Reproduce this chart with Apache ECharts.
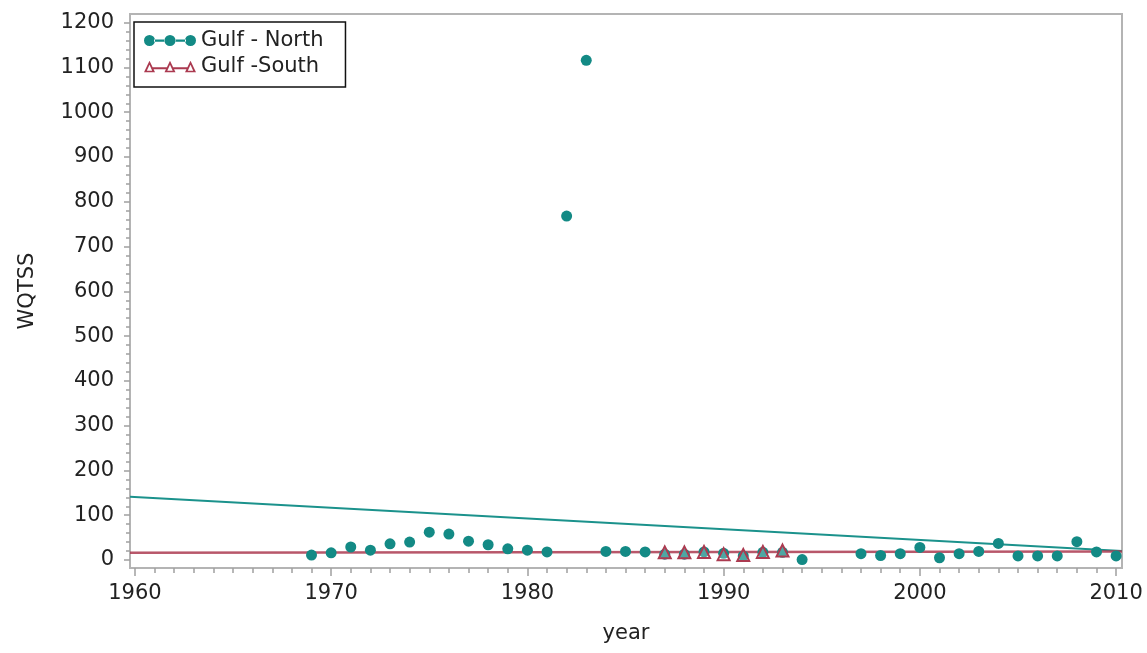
<!DOCTYPE html>
<html>
<head>
<meta charset="utf-8">
<script src="https://cdn.jsdelivr.net/npm/echarts@6/dist/echarts.min.js"></script>
<style>
    html, body { margin: 0; padding: 0; background: #fff; }
    #main { width: 1147px; height: 653px; }
</style>
</head>
<body>
<div id="main"></div>
<script>
// Gulf - North observations (year, WQTSS)
var northYears = [1969, 1970, 1971, 1972, 1973, 1974, 1975, 1976, 1977, 1978, 1979, 1980, 1981, 1982, 1983,
    1984, 1985, 1986, 1987, 1988, 1989, 1990, 1991, 1992, 1993, 1994,
    1997, 1998, 1999, 2000, 2001, 2002, 2003, 2004, 2005, 2006, 2007, 2008, 2009, 2010];
var northValues = [11, 16, 29, 22, 36, 40, 62, 58, 42, 34, 25, 22, 18, 768, 1116,
    19, 19, 18, 13, 13, 18, 15, 9, 17, 17, 1,
    14, 10, 14, 28, 5, 14, 19, 37, 9, 9, 9, 41, 18, 9];

// Gulf - South observations
var southYears = [1987, 1988, 1989, 1990, 1991, 1992, 1993];
var southValues = [17, 17, 18, 13, 11, 18, 21];

// fitted trend lines, values at the left and right edge of the plot
var xMin = 1959.75, xMax = 2010.3;
var fitYears = [xMin, xMax];
var northFit = [141, 20];
var southFit = [16, 19];

var xLabels = [1960, 1970, 1980, 1990, 2000, 2010];
var yLabels = [0, 100, 200, 300, 400, 500, 600, 700, 800, 900, 1000, 1100, 1200];

var teal = '#138a85';
var red = '#ab3a50';
var font = 'DejaVu Sans';

function pairs(xs, ys) {
    return xs.map(function (x, i) { return [x, ys[i]]; });
}
function range(a, b, step) {
    var out = [];
    for (var v = a; v <= b; v += step) out.push(v);
    return out;
}
function plain(v) { return String(v); }

var chart = echarts.init(document.getElementById('main'));

var tickStyle = { color: '#a0a0a0', width: 1.5 };

var option = {
    animation: false,
    backgroundColor: '#fff',
    grid: {
        left: 130, right: 25, top: 14, bottom: 85,
        show: true,
        borderColor: '#b4b4b4',
        borderWidth: 2
    },
    legend: {
        left: 134,
        top: 22,
        orient: 'vertical',
        padding: [6, 22, 8, 10],
        itemGap: 1,
        itemWidth: 52,
        itemHeight: 12,
        borderColor: '#111',
        borderWidth: 1.5,
        itemStyle: { borderWidth: 0 },
        textStyle: { fontFamily: font, fontSize: 21, color: '#222', lineHeight: 25 },
        data: [
            {
                name: 'Gulf - North',
                icon: 'path://M0 6a5.5 5.5 0 1 0 11 0a5.5 5.5 0 1 0 -11 0ZM20.5 6a5.5 5.5 0 1 0 11 0a5.5 5.5 0 1 0 -11 0ZM41 6a5.5 5.5 0 1 0 11 0a5.5 5.5 0 1 0 -11 0ZM10 5H21V7.2H10ZM31 5H42V7.2H31Z',
                itemStyle: { color: teal }
            },
            {
                name: 'Gulf -South',
                icon: 'path://M0 12L5.5 0.5L11 12ZM2.8 10.4L8.2 10.4L5.5 4.6ZM20.5 12L26 0.5L31.5 12ZM23.3 10.4L28.7 10.4L26 4.6ZM41 12L46.5 0.5L52 12ZM43.8 10.4L49.2 10.4L46.5 4.6ZM8 7H23V9H8ZM29 7H44V9H29Z',
                itemStyle: { color: red }
            }
        ]
    },
    xAxis: [
        {
            type: 'value',
            min: xMin,
            max: xMax,
            name: 'year',
            nameLocation: 'middle',
            nameGap: 55,
            nameTextStyle: { fontFamily: font, fontSize: 21, color: '#222' },
            axisLine: { show: false, onZero: false },
            splitLine: { show: false },
            axisTick: { length: 8, lineStyle: tickStyle, customValues: xLabels },
            axisLabel: { customValues: xLabels, formatter: plain, margin: 15, fontFamily: font, fontSize: 21, color: '#222' }
        },
        {
            type: 'value',
            min: xMin,
            max: xMax,
            position: 'bottom',
            axisLine: { show: false, onZero: false },
            splitLine: { show: false },
            axisLabel: { show: false },
            axisTick: { length: 5, lineStyle: tickStyle, customValues: range(1960, 2010, 1) }
        }
    ],
    yAxis: [
        {
            type: 'value',
            min: -17.9,
            max: 1219.4,
            name: 'WQTSS',
            nameLocation: 'middle',
            nameGap: 92,
            nameTextStyle: { fontFamily: font, fontSize: 21, color: '#222' },
            axisLine: { show: false, onZero: false },
            splitLine: { show: false },
            axisTick: { length: 6, lineStyle: tickStyle, customValues: yLabels },
            axisLabel: { customValues: yLabels, formatter: plain, margin: 16, fontFamily: font, fontSize: 21, color: '#222' }
        },
        {
            type: 'value',
            min: -17.9,
            max: 1219.4,
            position: 'left',
            axisLine: { show: false, onZero: false },
            splitLine: { show: false },
            axisLabel: { show: false },
            axisTick: { length: 4, lineStyle: tickStyle, customValues: range(0, 1200, 20) }
        }
    ],
    series: [
        {
            name: 'Gulf - North fit',
            type: 'line',
            data: pairs(fitYears, northFit),
            symbol: 'none',
            lineStyle: { color: '#1b928c', width: 2 },
            z: 2
        },
        {
            name: 'Gulf -South fit',
            type: 'line',
            data: pairs(fitYears, southFit),
            symbol: 'none',
            lineStyle: { color: red, width: 2.5, opacity: 0.85 },
            z: 2
        },
        {
            name: 'Gulf - North',
            type: 'scatter',
            data: pairs(northYears, northValues),
            symbol: 'circle',
            symbolSize: 11,
            itemStyle: { color: teal, opacity: 1 },
            z: 3
        },
        {
            name: 'Gulf -South',
            type: 'scatter',
            data: pairs(southYears, southValues),
            symbol: 'triangle',
            symbolSize: 12,
            itemStyle: { color: 'rgba(255,255,255,0.25)', borderColor: red, borderWidth: 2, opacity: 1 },
            z: 4
        }
    ]
};

chart.setOption(option);
</script>
</body>
</html>
